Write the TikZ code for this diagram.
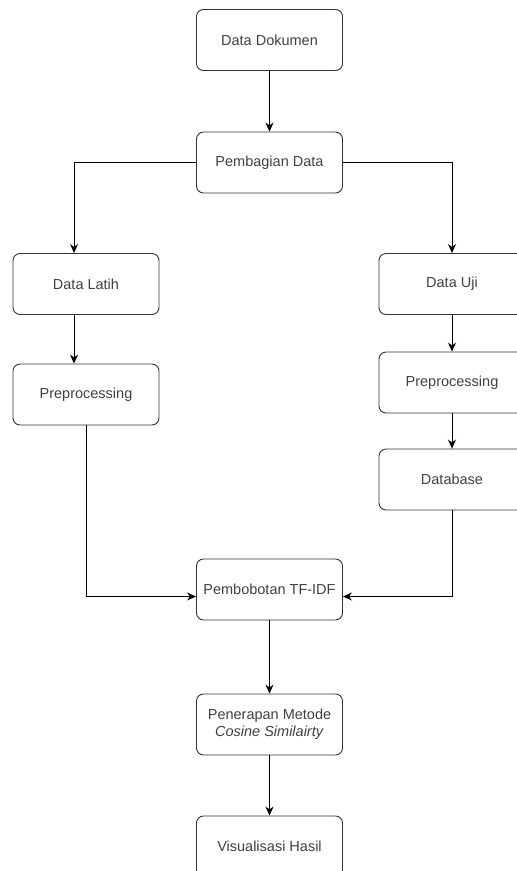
\documentclass[tikz,border=0pt]{standalone}
\usepackage{fontspec}
\setmainfont{Liberation Sans}
\usetikzlibrary{arrows.meta}

\tikzset{
  box/.style={draw=black!80, line width=0.9pt, rounded corners=7pt,
    minimum width=146pt, minimum height=61pt, align=center,
    text=black!75, font=\fontsize{14.5pt}{17pt}\selectfont},
  flow/.style={draw=black, line width=0.9pt, -{Stealth[length=9pt,width=8pt]}}
}

\begin{document}
\begin{tikzpicture}[x=1pt, y=1pt]
  \useasboundingbox (0,0) rectangle (517,-871);
  \clip (0,0) rectangle (517,-871);

  % middle column
  \node[box] (dokumen) at (269.5,-40) {Data Dokumen};
  \node[box] (bagi) at (269.5,-162.5) {Pembagian Data};
  % left and right branch
  \node[box] (latih) at (86,-284) {Data Latih};
  \node[box] (prelatih) at (86,-394.5) {Preprocessing};
  \node[box] (uji) at (452,-284) {Data Uji};
  \node[box] (preuji) at (452,-382.5) {Preprocessing};
  \node[box] (db) at (452,-479.5) {Database};
  % back to the middle
  \node[box] (tfidf) at (269.5,-589.5) {Pembobotan TF-IDF};
  \node[box] (metode) at (269.5,-724.5) {Penerapan Metode\\\textit{Cosine Similairty}};
  \node[box] (hasil) at (269.5,-846.5) {Visualisasi Hasil};

  \draw[flow] (dokumen) -- (bagi);
  \draw[flow] (bagi.west) -| ([xshift=-12pt]latih.north);
  \draw[flow] (bagi.east) -| (uji.north);
  \draw[flow] ([xshift=-12pt]latih.south) -- ([xshift=-12pt]prelatih.north);
  \draw[flow] (uji) -- (preuji);
  \draw[flow] (preuji) -- (db);
  \draw[flow] (prelatih.south) |- ([yshift=-7pt]tfidf.west);
  \draw[flow] (db.south) |- ([yshift=-7pt]tfidf.east);
  \draw[flow] (tfidf) -- (metode);
  \draw[flow] (metode) -- (hasil);
\end{tikzpicture}
\end{document}
